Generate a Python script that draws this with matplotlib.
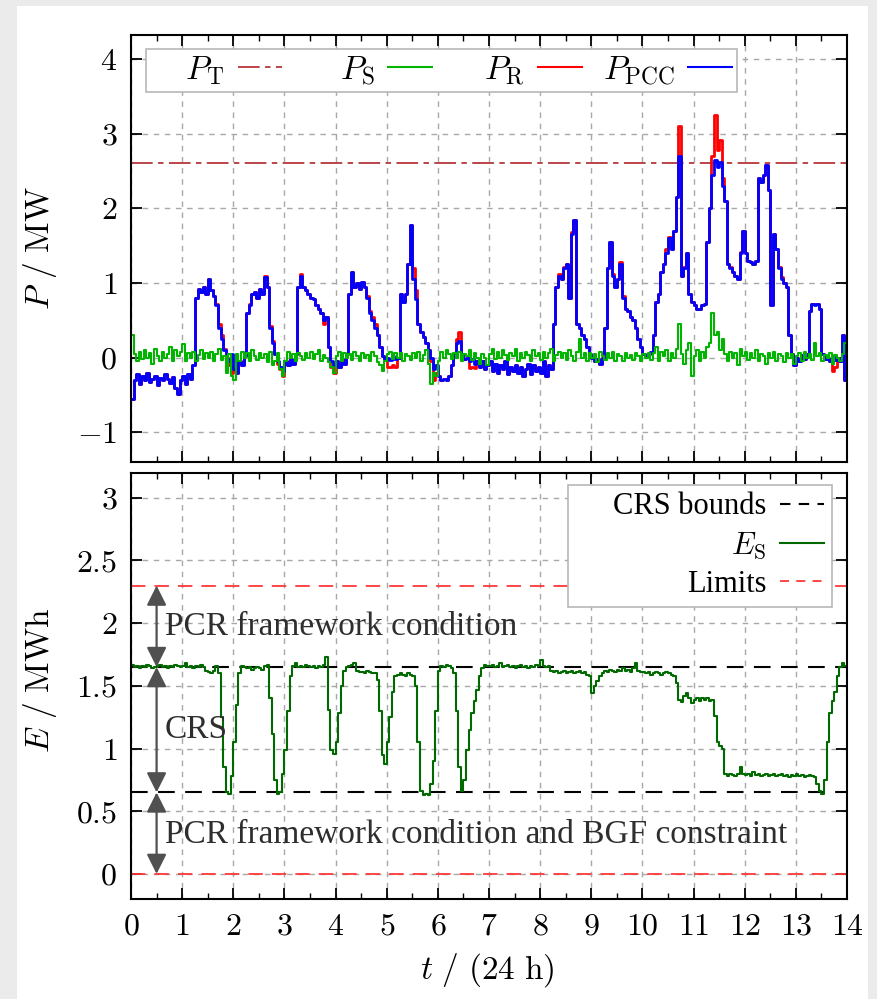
import numpy as np
import matplotlib
matplotlib.use("Agg")
from matplotlib import pyplot as plt
from matplotlib.ticker import MultipleLocator, FuncFormatter
from matplotlib.lines import Line2D
from matplotlib.patches import Rectangle

plt.rcParams['mathtext.fontset'] = 'cm'
plt.rcParams['font.family'] = ['Liberation Serif', 'DejaVu Serif']

# time axis: one sample every 0.05 day, 0 .. 14
t = np.arange(281) * 0.05

p_pcc = [
    -0.55, -0.30, -0.22, -0.35, -0.25, -0.30, -0.20, -0.33, -0.28, -0.24, -0.36, -0.27, -0.30, -0.22, -0.29, -0.34, -0.26, -0.40, -0.48, -0.30,
    -0.25, -0.35, -0.22, -0.28, -0.10, 0.80, 0.92, 0.88, 0.95, 0.85, 1.05, 0.90, 0.82, 0.70, 0.40, 0.25, 0.10, 0.00, -0.05, 0.05,
    -0.15, -0.20, -0.05, -0.10, 0.02, 0.60, 0.70, 0.85, 0.88, 0.80, 0.92, 0.85, 1.08, 0.95, 0.40, 0.20, 0.05, -0.05, -0.12, -0.18,
    -0.05, -0.10, -0.02, -0.08, 0.05, 0.95, 1.10, 0.95, 0.90, 0.85, 0.80, 0.78, 0.70, 0.65, 0.60, 0.50, 0.55, 0.15, -0.05, -0.10,
    -0.05, -0.12, -0.02, -0.08, 0.05, 0.85, 1.15, 0.95, 1.00, 0.92, 1.02, 0.95, 0.80, 0.60, 0.50, 0.40, 0.30, 0.15, 0.02, -0.02,
    0.00, -0.03, 0.02, -0.02, 0.00, 0.85, 0.75, 0.85, 1.25, 1.78, 1.05, 0.78, 0.45, 0.35, 0.28, 0.20, 0.10, 0.00, -0.15, -0.10,
    -0.25, -0.30, -0.28, -0.30, -0.25, -0.10, 0.05, 0.20, 0.22, 0.05, -0.02, 0.00, -0.05, -0.02, -0.08, -0.05, -0.12, -0.05, -0.15, -0.10,
    -0.05, -0.18, -0.08, -0.20, -0.10, -0.15, -0.05, -0.22, -0.12, -0.18, -0.10, -0.20, -0.12, -0.25, -0.15, -0.08, -0.22, -0.10, -0.18, -0.12,
    -0.20, -0.05, -0.25, -0.10, -0.15, 0.45, 0.95, 1.10, 1.05, 1.20, 1.25, 0.80, 1.65, 1.85, 0.45, 0.40, 0.30, 0.25, 0.15, 0.05,
    0.00, -0.05, -0.02, -0.08, 0.00, 0.40, 1.20, 1.55, 1.10, 0.95, 1.05, 1.25, 0.80, 0.65, 0.62, 0.55, 0.50, 0.40, 0.25, 0.15,
    0.05, 0.02, 0.05, 0.08, 0.30, 0.75, 0.85, 1.15, 1.25, 1.40, 1.60, 1.45, 1.70, 2.15, 2.70, 1.10, 1.20, 1.40, 0.85, 0.75,
    0.70, 0.65, 0.65, 0.70, 0.72, 1.55, 2.00, 2.45, 2.65, 2.55, 2.62, 2.30, 2.10, 1.25, 1.20, 1.15, 1.10, 1.05, 1.40, 1.70,
    1.40, 1.30, 1.28, 1.25, 1.30, 2.40, 2.35, 2.45, 2.58, 2.25, 0.70, 1.65, 1.45, 1.20, 1.05, 1.00, 0.95, 0.30, 0.05, -0.10,
    0.00, -0.05, 0.03, -0.02, 0.05, 0.62, 0.72, 0.70, 0.72, 0.65, 0.05, -0.02, 0.00, -0.05, 0.02, -0.03, 0.00, -0.05, 0.30, -0.30,
    -0.10,
]

p_r = [
    -0.55, -0.30, -0.22, -0.35, -0.25, -0.30, -0.20, -0.33, -0.28, -0.24, -0.36, -0.27, -0.30, -0.22, -0.29, -0.34, -0.26, -0.40, -0.48, -0.30,
    -0.25, -0.35, -0.22, -0.28, -0.10, 0.80, 0.92, 0.88, 0.95, 0.85, 1.05, 0.90, 0.82, 0.72, 0.45, 0.30, 0.12, 0.00, -0.10, -0.20,
    -0.15, -0.20, -0.05, -0.10, 0.02, 0.60, 0.72, 0.85, 0.88, 0.80, 0.92, 0.85, 1.10, 0.95, 0.42, 0.22, 0.05, -0.08, -0.15, -0.25,
    -0.05, -0.10, -0.02, -0.08, 0.05, 0.95, 1.12, 0.95, 0.90, 0.85, 0.80, 0.78, 0.70, 0.65, 0.60, 0.45, 0.55, 0.15, -0.12, -0.20,
    -0.05, -0.12, -0.02, -0.08, 0.05, 0.85, 1.15, 0.95, 1.00, 0.92, 1.02, 0.95, 0.82, 0.62, 0.55, 0.45, 0.30, 0.15, 0.02, -0.02,
    -0.12, -0.12, -0.10, -0.12, 0.00, 0.85, 0.75, 0.85, 1.25, 1.78, 1.20, 0.90, 0.45, 0.35, 0.28, 0.20, 0.10, -0.05, -0.30, -0.20,
    -0.25, -0.30, -0.28, -0.30, -0.25, -0.10, 0.05, 0.25, 0.35, 0.05, -0.02, 0.00, -0.14, -0.12, -0.14, -0.05, -0.12, -0.05, -0.15, -0.10,
    -0.05, -0.18, -0.08, -0.20, -0.10, -0.15, -0.05, -0.22, -0.12, -0.18, -0.10, -0.20, -0.12, -0.25, -0.15, -0.08, -0.22, -0.10, -0.18, -0.12,
    -0.20, -0.05, -0.25, -0.10, -0.15, 0.45, 0.95, 1.12, 1.05, 1.22, 1.25, 0.80, 1.68, 1.85, 0.45, 0.40, 0.30, 0.25, 0.15, 0.05,
    0.00, -0.05, -0.02, -0.08, 0.00, 0.40, 1.20, 1.55, 1.12, 0.95, 1.05, 1.28, 0.82, 0.65, 0.62, 0.55, 0.50, 0.40, 0.25, 0.15,
    0.05, 0.02, 0.05, 0.08, 0.30, 0.75, 0.85, 1.15, 1.25, 1.45, 1.62, 1.45, 1.70, 2.15, 3.10, 1.10, 1.22, 1.40, 0.85, 0.75,
    0.70, 0.65, 0.65, 0.70, 0.72, 1.55, 2.00, 2.70, 3.25, 2.78, 2.92, 2.40, 2.10, 1.25, 1.22, 1.15, 1.10, 1.05, 1.42, 1.70,
    1.40, 1.30, 1.28, 1.25, 1.30, 2.40, 2.35, 2.45, 2.58, 2.25, 0.70, 1.65, 1.45, 1.22, 1.08, 1.00, 0.95, 0.30, 0.05, -0.10,
    0.00, -0.05, 0.03, -0.02, 0.05, 0.62, 0.72, 0.72, 0.72, 0.65, 0.05, -0.02, 0.00, -0.05, -0.18, -0.12, 0.00, -0.05, 0.30, -0.30,
    -0.10,
]

p_s = [
    0.30, 0.05, -0.05, 0.08, -0.02, 0.10, 0.00, 0.06, -0.08, 0.12, 0.02, -0.04, 0.08, 0.00, 0.05, 0.15, -0.05, 0.10, 0.02, 0.08,
    0.18, -0.05, 0.06, 0.00, 0.08, -0.05, 0.04, 0.10, -0.02, 0.06, 0.00, 0.08, -0.04, 0.05, 0.12, -0.03, 0.02, -0.20, 0.05, -0.25,
    -0.30, 0.05, -0.05, 0.08, 0.00, 0.06, -0.04, 0.10, 0.02, -0.03, 0.07, 0.00, 0.05, -0.06, 0.08, -0.10, -0.05, 0.06, -0.15, -0.25,
    -0.05, 0.08, 0.00, 0.05, -0.04, 0.07, 0.02, -0.03, 0.06, 0.00, 0.08, -0.02, 0.05, 0.10, -0.05, 0.04, 0.00, -0.06, -0.12, -0.20,
    0.02, 0.08, -0.04, 0.06, 0.00, 0.05, -0.03, 0.08, 0.02, -0.05, 0.07, 0.00, 0.04, -0.04, 0.08, 0.02, -0.06, -0.10, -0.18, -0.05,
    0.05, 0.08, -0.02, 0.06, 0.00, 0.07, -0.04, 0.05, 0.02, -0.03, 0.06, 0.00, 0.08, -0.05, 0.04, 0.10, -0.08, -0.35, -0.20, -0.25,
    -0.05, 0.08, 0.00, 0.10, 0.05, -0.02, 0.06, 0.00, 0.08, -0.04, 0.05, 0.02, 0.10, -0.03, 0.06, 0.00, -0.08, 0.05, 0.00, -0.10,
    0.05, 0.12, -0.02, 0.08, 0.00, 0.10, 0.04, -0.03, 0.07, 0.02, 0.12, -0.05, 0.06, 0.00, 0.08, 0.03, -0.04, 0.10, 0.02, 0.06,
    -0.03, 0.08, 0.00, 0.06, 0.12, -0.05, 0.04, 0.08, 0.00, 0.06, -0.03, 0.10, 0.02, -0.05, 0.08, 0.25, 0.00, 0.06, -0.04, 0.07,
    0.00, 0.05, -0.06, 0.08, 0.02, -0.03, 0.06, 0.00, 0.08, -0.04, 0.05, 0.02, -0.05, 0.07, 0.00, 0.04, -0.03, 0.06, 0.02, -0.04,
    0.05, 0.00, 0.07, -0.03, 0.06, 0.15, -0.05, 0.08, 0.02, 0.10, -0.04, 0.06, 0.00, 0.12, 0.45, 0.05, -0.08, 0.10, 0.20, -0.25,
    0.02, 0.10, -0.05, 0.08, 0.00, 0.15, 0.20, 0.60, 0.30, 0.35, 0.10, 0.25, 0.05, -0.05, 0.08, 0.00, 0.06, -0.10, 0.12, 0.02,
    0.08, -0.03, 0.06, 0.00, 0.10, -0.05, 0.05, 0.02, -0.08, 0.06, 0.00, 0.08, -0.04, 0.05, 0.02, -0.06, 0.07, 0.00, 0.05, -0.08,
    0.02, 0.06, -0.04, 0.08, 0.00, 0.05, -0.03, 0.20, 0.02, 0.07, -0.05, 0.04, 0.00, 0.06, -0.08, 0.03, 0.00, -0.05, 0.05, 0.20,
    -0.30,
]

e_s = [
    1.67, 1.65, 1.66, 1.64, 1.66, 1.65, 1.67, 1.66, 1.64, 1.65, 1.66, 1.67, 1.65, 1.66, 1.64, 1.66, 1.65, 1.67, 1.66, 1.65,
    1.66, 1.68, 1.65, 1.66, 1.64, 1.66, 1.65, 1.67, 1.65, 1.62, 1.61, 1.60, 1.62, 1.66, 1.60, 1.25, 0.85, 0.65, 0.64, 0.78,
    1.05, 1.35, 1.60, 1.66, 1.65, 1.64, 1.65, 1.63, 1.64, 1.65, 1.64, 1.63, 1.66, 1.67, 1.40, 1.12, 0.75, 0.64, 0.65, 0.80,
    0.99, 1.30, 1.58, 1.66, 1.68, 1.65, 1.66, 1.65, 1.67, 1.66, 1.65, 1.66, 1.64, 1.66, 1.65, 1.67, 1.73, 1.31, 0.99, 0.96,
    1.05, 1.28, 1.50, 1.62, 1.65, 1.66, 1.67, 1.68, 1.62, 1.61, 1.61, 1.60, 1.62, 1.61, 1.60, 1.60, 1.55, 1.30, 0.95, 0.88,
    1.05, 1.25, 1.45, 1.58, 1.59, 1.60, 1.59, 1.58, 1.60, 1.59, 1.58, 1.50, 1.05, 0.66, 0.63, 0.64, 0.63, 0.72, 0.90, 1.30,
    1.62, 1.66, 1.65, 1.67, 1.66, 1.64, 1.60, 1.30, 0.85, 0.66, 0.75, 0.99, 1.15, 1.28, 1.38, 1.47, 1.58, 1.64, 1.67, 1.66,
    1.66, 1.67, 1.65, 1.66, 1.68, 1.65, 1.66, 1.67, 1.65, 1.66, 1.64, 1.66, 1.67, 1.65, 1.66, 1.64, 1.66, 1.65, 1.67, 1.66,
    1.71, 1.66, 1.65, 1.66, 1.62, 1.61, 1.62, 1.60, 1.61, 1.62, 1.60, 1.61, 1.62, 1.60, 1.61, 1.62, 1.60, 1.61, 1.59, 1.58,
    1.44, 1.50, 1.54, 1.58, 1.60, 1.62, 1.61, 1.63, 1.62, 1.61, 1.63, 1.62, 1.64, 1.62, 1.63, 1.61, 1.64, 1.68, 1.62, 1.61,
    1.61, 1.60, 1.61, 1.59, 1.60, 1.61, 1.60, 1.59, 1.60, 1.61, 1.60, 1.59, 1.58, 1.52, 1.39, 1.37, 1.42, 1.44, 1.40, 1.36,
    1.39, 1.40, 1.38, 1.40, 1.39, 1.40, 1.38, 1.39, 1.26, 1.05, 1.02, 1.00, 0.80, 0.78, 0.80, 0.79, 0.78, 0.80, 0.85, 0.80,
    0.79, 0.80, 0.78, 0.81, 0.79, 0.80, 0.78, 0.79, 0.80, 0.78, 0.79, 0.80, 0.78, 0.79, 0.80, 0.78, 0.79, 0.77, 0.79, 0.78,
    0.80, 0.78, 0.79, 0.77, 0.78, 0.79, 0.78, 0.77, 0.72, 0.66, 0.64, 0.75, 1.05, 1.28, 1.38, 1.45, 1.58, 1.65, 1.68, 1.66,
    1.67,
]

p_t_level = 2.6
crs_bounds = [0.65, 1.65]
limits = [0.0, 2.3]

FS = 23
TXT = 24
grid_kw = dict(color='#a8a8a8', linestyle=(0, (4, 4)), linewidth=1.0)


def math_fmt(v, pos):
    return r'$%g$' % v


def style_axes(ax):
    ax.set_xlim(0, 14)
    ax.xaxis.set_major_locator(MultipleLocator(1))
    ax.xaxis.set_minor_locator(MultipleLocator(0.5))
    ax.tick_params(which='both', direction='in', top=True, right=True, labelsize=FS, pad=10)
    ax.tick_params(which='major', length=8, width=1.3)
    ax.tick_params(which='minor', length=4, width=1.0)
    ax.yaxis.set_major_formatter(FuncFormatter(math_fmt))
    ax.xaxis.set_major_formatter(FuncFormatter(math_fmt))
    ax.grid(True, which='major', **grid_kw)
    for s in ax.spines.values():
        s.set_linewidth(1.5)


fig = plt.figure(figsize=(8.77, 9.99), dpi=100, facecolor='#ebebeb')
fig.patches.append(Rectangle((17 / 877, 0), 851 / 877, 1 - 6 / 999, transform=fig.transFigure,
                             facecolor='white', edgecolor='none', zorder=-10))

ax1 = fig.add_axes([0.1494, 0.5372, 0.8164, 0.4278])
ax2 = fig.add_axes([0.1494, 0.1001, 0.8164, 0.4267])

# ---- power panel
style_axes(ax1)
ax1.set_ylim(-1.4, 4.32)
ax1.yaxis.set_major_locator(MultipleLocator(1))
ax1.tick_params(labelbottom=False)

ax1.axhline(p_t_level, color='#b5363a', lw=1.3, dashes=(12, 3, 3, 3))
ax1.plot(t, p_r, color='#ff0000', lw=2.0, drawstyle='steps-post')
ax1.plot(t, p_pcc, color='#0000ff', lw=2.0, drawstyle='steps-post')
ax1.plot(t, p_s, color='#00b400', lw=1.5, drawstyle='steps-post')

h1 = [Line2D([], [], color='#b5363a', lw=1.3, dashes=(12, 3, 3, 3)),
      Line2D([], [], color='#00b400', lw=1.5),
      Line2D([], [], color='#ff0000', lw=1.5),
      Line2D([], [], color='#0000ff', lw=1.5)]
lab1 = [r'$P_\mathrm{T}$', r'$P_\mathrm{S}$', r'$P_\mathrm{R}$', r'$P_\mathrm{PCC}$']
leg1 = ax1.legend(h1, lab1, ncol=4, loc='upper left', bbox_to_anchor=(0.021, 0.967),
                  borderaxespad=0, markerfirst=False, fontsize=TXT, handlelength=1.32,
                  handletextpad=0.4, columnspacing=0.57, borderpad=0.15, fancybox=False,
                  framealpha=1, edgecolor='#b8b8b8')
leg1.get_frame().set_linewidth(1.2)
# equal-width key columns, text right-aligned against its sample
for col in leg1._legend_handle_box.get_children():
    col.width = 131

# ---- energy panel
style_axes(ax2)
ax2.set_ylim(-0.2, 3.2)
ax2.yaxis.set_major_locator(MultipleLocator(0.5))

for lv in limits:
    ax2.axhline(lv, color='#ff3838', lw=1.3, dashes=(8, 5))
for lv in crs_bounds:
    ax2.axhline(lv, color='black', lw=1.5, dashes=(8, 5))
ax2.plot(t, e_s, color='#006a00', lw=1.5, drawstyle='steps-post')

arr = dict(arrowstyle='<|-|>', color='#505050', lw=1.6, mutation_scale=30, shrinkA=0, shrinkB=0)
ax2.annotate('', xy=(0.5, limits[1]), xytext=(0.5, crs_bounds[1]), arrowprops=arr)
ax2.annotate('', xy=(0.5, crs_bounds[1]), xytext=(0.5, crs_bounds[0]), arrowprops=arr)
ax2.annotate('', xy=(0.5, crs_bounds[0]), xytext=(0.5, limits[0]), arrowprops=arr)

txt_kw = dict(fontsize=TXT, color='#2e2e2e', va='center', ha='left')
ax2.text(0.66, 1.97, 'PCR framework condition', **txt_kw)
ax2.text(0.66, 1.15, 'CRS', **txt_kw)
ax2.text(0.66, 0.31, 'PCR framework condition and BGF constraint', **txt_kw)

h2 = [Line2D([], [], color='black', lw=1.5, dashes=(5, 4)),
      Line2D([], [], color='#006a00', lw=1.5),
      Line2D([], [], color='#ff3838', lw=1.3, dashes=(5, 4))]
lab2 = ['CRS bounds', r'$E_\mathrm{S}$', 'Limits']
leg2 = ax2.legend(h2, lab2, loc='upper right', bbox_to_anchor=(0.979, 0.972),
                  borderaxespad=0, markerfirst=False, fontsize=22, handlelength=1.45,
                  handletextpad=0.45, borderpad=0.25, labelspacing=0.3, fancybox=False,
                  framealpha=1, edgecolor='#b8b8b8')
leg2.get_frame().set_linewidth(1.2)
for col in leg2._legend_handle_box.get_children():
    col.width = 249

# axis labels
fig.text(0.046, 0.752, r'$P\ /\ \mathrm{MW}$', rotation=90, ha='center', va='center', fontsize=TXT)
fig.text(0.046, 0.319, r'$E\ /\ \mathrm{MWh}$', rotation=90, ha='center', va='center', fontsize=TXT)
fig.text(0.556, 0.029, r'$t\ /\ (24\ \mathrm{h})$', ha='center', va='center', fontsize=TXT)

fig.savefig('out.png', dpi=100, facecolor=fig.get_facecolor())
